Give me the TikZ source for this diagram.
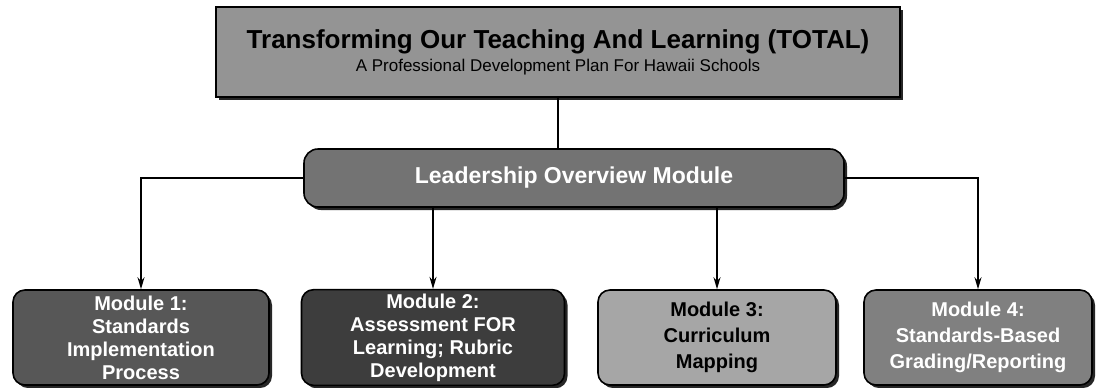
\documentclass[tikz,border=0pt]{standalone}
\usepackage{fontspec}
\setmainfont{Liberation Sans}
\usetikzlibrary{arrows.meta,shadows}
\tikzset{
  box/.style={draw=black, line width=0.8pt, align=center, inner sep=2pt,
    font=\fontsize{10}{11.5}\selectfont\bfseries,
    drop shadow={shadow xshift=1.5pt, shadow yshift=-1.5pt, fill=black, opacity=0.85}},
  modbox/.style={box, rounded corners=6pt, minimum height=47.5pt},
  loose/.style={font=\fontsize{10}{13}\selectfont\bfseries},
  line/.style={line width=0.8pt},
  link/.style={line, -{Stealth[length=6pt,width=3.5pt]}}
}
\begin{document}
\begin{tikzpicture}[x=0.5pt, y=-0.5pt]
\useasboundingbox (0,0) rectangle (1097,387);
% title and overview
\node(top) [box, fill=black!42, minimum width=342pt, minimum height=45pt] at (558,52)
  {{\fontsize{13}{16}\selectfont Transforming Our Teaching And Learning (TOTAL)}\\
   {\fontsize{8.5}{10}\selectfont\mdseries A Professional Development Plan For Hawaii Schools}};
\node(lead) [box, fill=black!55, text=white, rounded corners=7pt, minimum width=270pt, minimum height=29pt,
  font=\fontsize{11.5}{13}\selectfont\bfseries] at (574,178) {Leadership Overview Module};
% modules
\node(m1) [modbox, fill=black!66, text=white, minimum width=128pt] at (141,337.5)
  {Module 1:\\Standards\\Implementation\\Process};
\node(m2) [modbox, fill=black!76, text=white, minimum width=131.5pt] at (433,337.5)
  {Module 2:\\Assessment FOR\\Learning; Rubric\\Development};
\node(m3) [modbox, loose, fill=black!35, minimum width=119pt] at (717,337.5)
  {Module 3:\\Curriculum\\Mapping};
\node(m4) [modbox, loose, fill=black!50, text=white, minimum width=114pt] at (978,337.5)
  {Module 4:\\Standards-Based\\Grading/Reporting};
% connectors
\draw[line](top.south) -- (top.south |- lead.north);
\draw[link](lead.west) -| (m1.north);
\draw[link](lead.south -| m2.north) -- (m2.north);
\draw[link](lead.south -| m3.north) -- (m3.north);
\draw[link](lead.east) -| (m4.north);
\end{tikzpicture}
\end{document}
